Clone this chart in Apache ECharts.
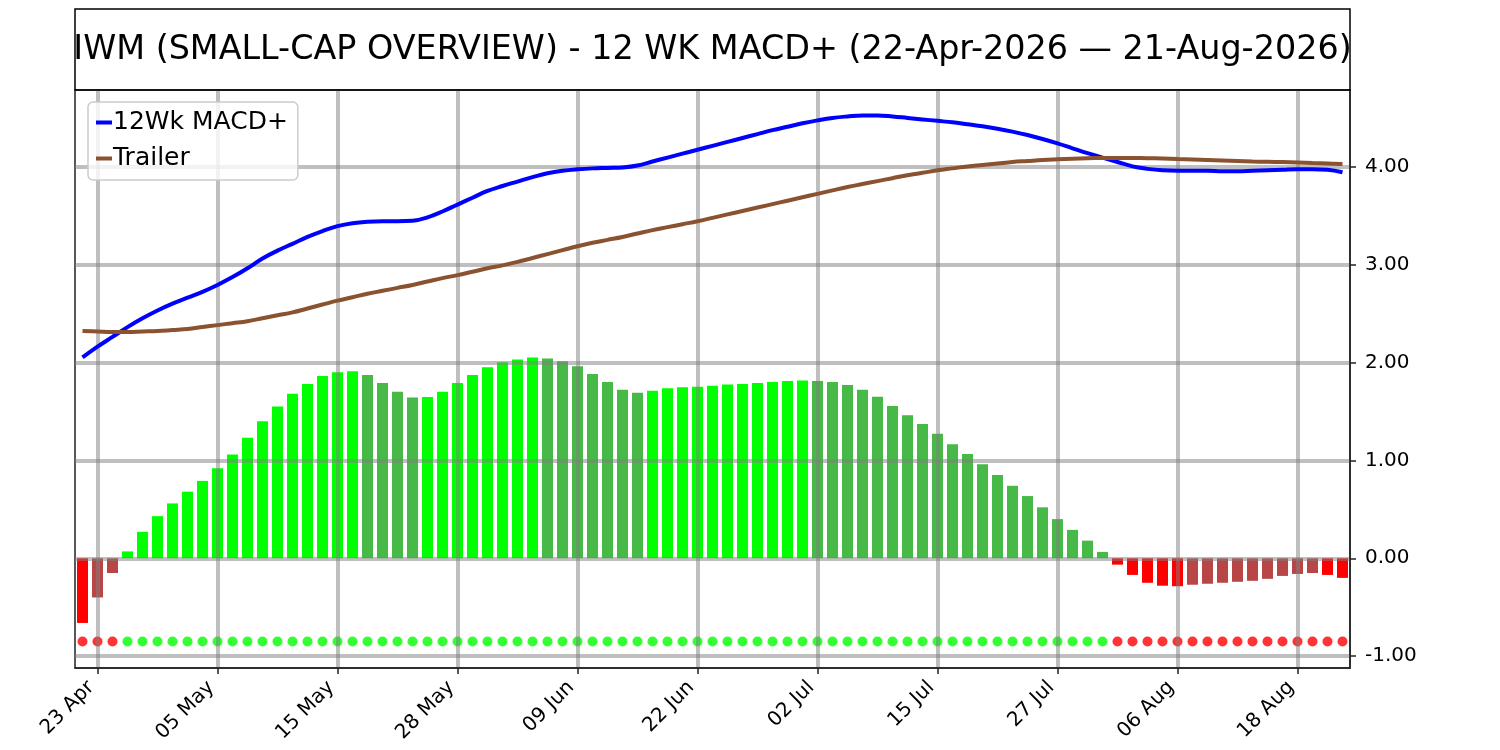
<!DOCTYPE html>
<html>
<head>
<meta charset="utf-8">
<script src="https://cdn.jsdelivr.net/npm/echarts@6/dist/echarts.min.js"></script>
<style>
html,body{margin:0;padding:0;background:#fff}
#chart{width:1500px;height:750px}
</style>
</head>
<body>
<div id="chart"></div>
<script>
// trading days 22-Apr-2026 .. 21-Aug-2026
var dates = [
	'22 Apr','23 Apr','24 Apr','27 Apr','28 Apr','29 Apr','30 Apr',
	'01 May','04 May','05 May','06 May','07 May','08 May','11 May','12 May','13 May','14 May','15 May',
	'18 May','19 May','20 May','21 May','22 May','26 May','27 May','28 May','29 May',
	'01 Jun','02 Jun','03 Jun','04 Jun','05 Jun','08 Jun','09 Jun','10 Jun','11 Jun','12 Jun',
	'15 Jun','16 Jun','17 Jun','18 Jun','22 Jun','23 Jun','24 Jun','25 Jun','26 Jun','29 Jun','30 Jun',
	'01 Jul','02 Jul','06 Jul','07 Jul','08 Jul','09 Jul','10 Jul','13 Jul','14 Jul','15 Jul','16 Jul','17 Jul',
	'20 Jul','21 Jul','22 Jul','23 Jul','24 Jul','27 Jul','28 Jul','29 Jul','30 Jul','31 Jul',
	'03 Aug','04 Aug','05 Aug','06 Aug','07 Aug','10 Aug','11 Aug','12 Aug','13 Aug','14 Aug',
	'17 Aug','18 Aug','19 Aug','20 Aug','21 Aug'
];
var histValues = [
	-0.66,-0.40,-0.15,0.07,0.27,0.43,0.56,0.68,0.79,0.92,
	1.06,1.23,1.40,1.55,1.68,1.78,1.86,1.90,1.91,1.87,
	1.79,1.70,1.64,1.645,1.70,1.79,1.87,1.95,2.00,2.03,
	2.05,2.04,2.01,1.96,1.88,1.80,1.72,1.69,1.71,1.735,
	1.745,1.75,1.76,1.775,1.78,1.79,1.80,1.81,1.815,1.81,
	1.80,1.77,1.72,1.65,1.555,1.46,1.37,1.27,1.165,1.065,
	0.96,0.85,0.74,0.635,0.52,0.40,0.29,0.18,0.065,-0.065,
	-0.17,-0.25,-0.28,-0.285,-0.27,-0.26,-0.25,-0.24,-0.23,-0.21,
	-0.18,-0.16,-0.15,-0.17,-0.20
];
var macdValues = [
	2.05,2.16,2.26,2.36,2.45,2.53,2.60,2.66,2.72,2.79,
	2.87,2.96,3.06,3.14,3.21,3.28,3.34,3.39,3.42,3.435,
	3.44,3.44,3.445,3.48,3.54,3.61,3.68,3.75,3.80,3.845,
	3.89,3.93,3.955,3.97,3.98,3.985,3.99,4.01,4.05,4.09,
	4.13,4.17,4.21,4.25,4.29,4.33,4.37,4.405,4.44,4.47,
	4.495,4.51,4.52,4.52,4.51,4.495,4.48,4.465,4.45,4.43,
	4.41,4.385,4.355,4.32,4.28,4.235,4.185,4.135,4.09,4.045,
	4.00,3.975,3.96,3.955,3.955,3.955,3.95,3.95,3.955,3.96,
	3.965,3.97,3.97,3.965,3.94
];
var trailerValues = [
	2.32,2.315,2.31,2.31,2.315,2.32,2.33,2.34,2.36,2.38,
	2.40,2.42,2.45,2.48,2.51,2.55,2.59,2.63,2.665,2.70,
	2.73,2.76,2.79,2.825,2.86,2.89,2.925,2.96,2.99,3.025,
	3.065,3.105,3.145,3.185,3.22,3.25,3.28,3.315,3.35,3.38,
	3.41,3.44,3.475,3.51,3.545,3.58,3.615,3.65,3.685,3.72,
	3.755,3.79,3.82,3.85,3.88,3.91,3.935,3.96,3.98,4.00,
	4.015,4.03,4.045,4.055,4.065,4.072,4.078,4.083,4.086,4.087,
	4.086,4.084,4.08,4.075,4.07,4.065,4.06,4.055,4.05,4.047,
	4.044,4.04,4.035,4.03,4.025
];
var signalLevel = -0.85;
var yTicks = [-1, 0, 1, 2, 3, 4];
var titleText = 'IWM (SMALL-CAP OVERVIEW) - 12 WK MACD+ (22-Apr-2026 \u2014 21-Aug-2026)';

var FONT = 'DejaVu Sans';
var gridLine = { color: 'rgba(128,128,128,0.5)', width: 4 };
var chart = echarts.init(document.getElementById('chart'));

function labelEvery(idx){
	return idx % 8 === 1;
}
function histColor(i){
	var v = histValues[i], prev = i > 0 ? histValues[i-1] : null;
	if (v >= 0) {
		return (prev === null || v > prev) ? '#00ff00' : '#46b946';
	}
	return (prev === null || v < prev) ? '#ff0000' : '#b94646';
}

var histData = histValues.map(function(v, i){
	return { value: v, itemStyle: { color: histColor(i) } };
});
var signalData = histValues.map(function(v, i){
	return { value: [i, signalLevel], itemStyle: { color: v >= 0 ? '#00ff00' : '#ff0000' } };
});

var option = {
	animation: false,
	backgroundColor: '#ffffff',
	textStyle: { fontFamily: FONT },
	graphic: [
		{
			type: 'rect',
			shape: { x: 75, y: 9, width: 1275, height: 81 },
			style: { fill: 'none', stroke: '#000', lineWidth: 1.5 },
			z: 10
		},
		{
			type: 'text',
			x: 712.5, y: 50,
			style: {
				text: titleText, fontSize: 33.4, fontFamily: FONT, fill: '#000',
				align: 'center', verticalAlign: 'middle'
			},
			z: 10
		}
	],
	legend: {
		data: ['12Wk MACD+', 'Trailer'],
		orient: 'vertical',
		left: 88, top: 102,
		icon: 'rect',
		itemWidth: 16, itemHeight: 4,
		itemGap: 11,
		padding: [8, 10, 9, 8],
		backgroundColor: 'rgba(255,255,255,0.8)',
		borderColor: '#cccccc', borderWidth: 1.5, borderRadius: 5,
		textStyle: { fontSize: 25, color: '#000', fontFamily: FONT, padding: [0, 0, 0, -4] },
		z: 6
	},
	grid: {
		left: 75, right: 150, top: 90, bottom: 82,
		show: true, borderColor: '#222', borderWidth: 1.5, backgroundColor: 'transparent'
	},
	xAxis: {
		type: 'category',
		data: dates,
		boundaryGap: true,
		z: 3,
		axisLine: { show: true, onZero: false, lineStyle: { color: '#222', width: 1.5 } },
		axisTick: { show: true, interval: labelEvery, alignWithLabel: true, length: 6, lineStyle: { color: '#222', width: 1.5 } },
		axisLabel: {
			interval: labelEvery, rotate: 45, margin: 10, padding: [0, 9, 0, 0],
			fontSize: 20, color: '#000', fontFamily: FONT
		},
		splitLine: { show: true, interval: labelEvery, alignWithLabel: true, lineStyle: gridLine }
	},
	yAxis: {
		type: 'value',
		position: 'right',
		min: -1.12, max: 4.78,
		z: 3,
		axisLine: { show: true, lineStyle: { color: '#222', width: 1.5 } },
		axisTick: { show: true, length: 6, customValues: yTicks, lineStyle: { color: '#222', width: 1.5 } },
		axisLabel: {
			customValues: yTicks, margin: 15, fontSize: 20, color: '#000', fontFamily: FONT,
			formatter: function(v){ return v.toFixed(2); }
		},
		splitLine: { show: true, lineStyle: gridLine }
	},
	series: [
		{
			name: 'hist', type: 'bar', data: histData, barWidth: 11, z: 2
		},
		{
			name: 'signal', type: 'scatter', data: signalData, symbolSize: 10, z: 2
		},
		{
			name: '12Wk MACD+', type: 'line', data: macdValues, smooth: 0.4, showSymbol: false,
			color: '#0000ff', lineStyle: { color: '#0000ff', width: 4 }, z: 5
		},
		{
			name: 'Trailer', type: 'line', data: trailerValues, smooth: 0.4, showSymbol: false,
			color: '#8b5230', lineStyle: { color: '#8b5230', width: 4 }, z: 5
		}
	]
};
chart.setOption(option);
</script>
</body>
</html>
